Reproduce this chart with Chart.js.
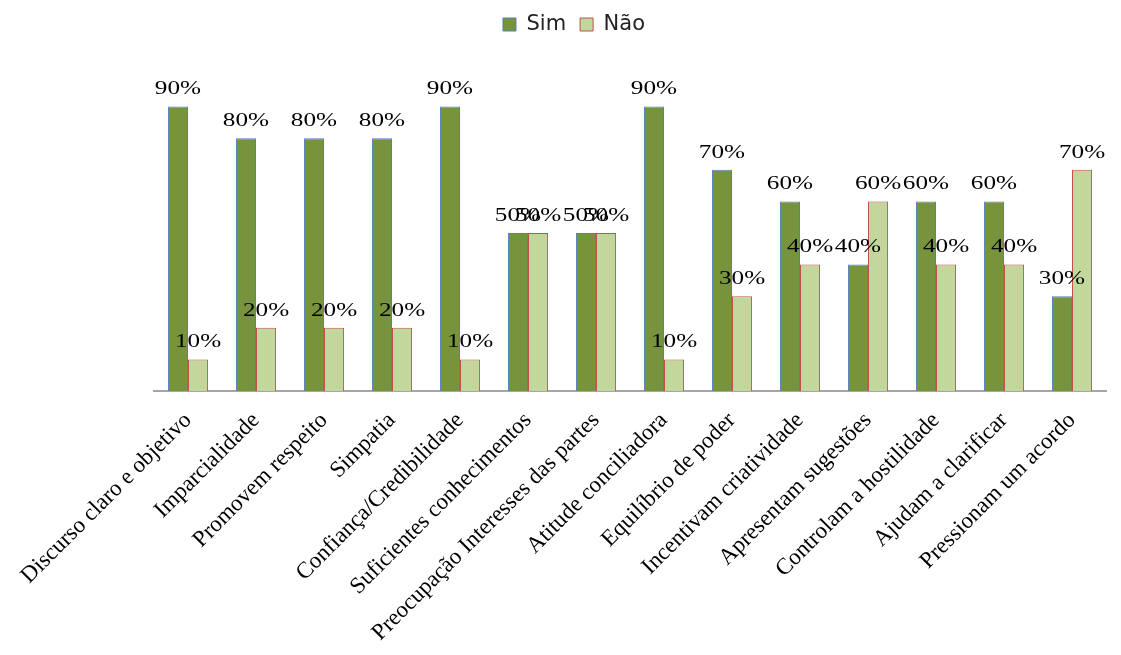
<!DOCTYPE html>
<html>
<head>
<meta charset="utf-8">
<script src="https://cdn.jsdelivr.net/npm/chart.js@4"></script>
<style>
    html, body { margin: 0; padding: 0; background: #fff; }
    #wrap { width: 1121px; height: 655px; }
</style>
</head>
<body>
<div id="wrap"><canvas id="chart" width="1121" height="655"></canvas></div>
<script>
const categories = [
    'Discurso claro e objetivo', 'Imparcialidade', 'Promovem respeito', 'Simpatia',
    'Confiança/Credibilidade', 'Suficientes conhecimentos', 'Preocupação Interesses das partes',
    'Atitude conciliadora', 'Equilíbrio de poder', 'Incentivam criatividade',
    'Apresentam sugestões', 'Controlam a hostilidade', 'Ajudam a clarificar', 'Pressionam um acordo'
];
const simValues = [90, 80, 80, 80, 90, 50, 50, 90, 70, 60, 40, 60, 60, 30];
const naoValues = [10, 20, 20, 20, 10, 50, 50, 10, 30, 40, 60, 40, 40, 70];

// value labels above each bar (wide serif, like the original)
const valueLabels = {
    id: 'valueLabels',
    afterDatasetsDraw(chart) {
        const c = chart.ctx;
        chart.data.datasets.forEach((ds, i) => {
            chart.getDatasetMeta(i).data.forEach((bar, j) => {
                c.save();
                c.translate(bar.x, bar.y - 17);
                c.scale(1.4, 1);
                c.font = '18px "Liberation Serif", "Times New Roman", serif';
                c.fillStyle = '#000';
                c.textAlign = 'center';
                c.textBaseline = 'middle';
                c.fillText(ds.data[j] + '%', 0, 0);
                c.restore();
            });
        });
    }
};

// make room under the legend so the plot starts lower
const legendSpace = {
    id: 'legendSpace',
    beforeInit(chart) {
        const fit = chart.legend.fit;
        chart.legend.fit = function () {
            fit.call(this);
            this.height = 75;
        };
    }
};

new Chart(document.getElementById('chart'), {
    type: 'bar',
    data: {
        labels: categories,
        datasets: [{
            label: 'Sim',
            data: simValues,
            backgroundColor: '#77933C',
            borderColor: '#4F81BD',
            borderWidth: 1
        }, {
            label: 'Não',
            data: naoValues,
            backgroundColor: '#C3D69B',
            borderColor: '#C0504D',
            borderWidth: 1
        }]
    },
    options: {
        responsive: false,
        animation: false,
        categoryPercentage: 0.59,
        barPercentage: 1,
        layout: { padding: { top: 0, right: 15, left: 42, bottom: 0 } },
        plugins: {
            legend: {
                position: 'top',
                labels: {
                    font: { family: '"DejaVu Sans", sans-serif', size: 21 },
                    color: '#222',
                    boxWidth: 13,
                    boxHeight: 13,
                    padding: 14
                }
            },
            tooltip: { enabled: false }
        },
        scales: {
            x: {
                grid: { display: false, drawTicks: false },
                border: { color: '#A6A6A6', width: 2 },
                afterFit: s => { s.height = 264; },
                ticks: {
                    autoSkip: false,
                    minRotation: 45,
                    maxRotation: 45,
                    padding: 16,
                    color: '#000',
                    font: { family: '"Liberation Serif", "Times New Roman", serif', size: 23 }
                }
            },
            y: {
                min: 0,
                max: 100,
                grid: { display: false },
                border: { display: false },
                ticks: { display: false },
                afterFit: s => { s.width = 112; }
            }
        }
    },
    plugins: [valueLabels, legendSpace]
});
</script>
</body>
</html>
